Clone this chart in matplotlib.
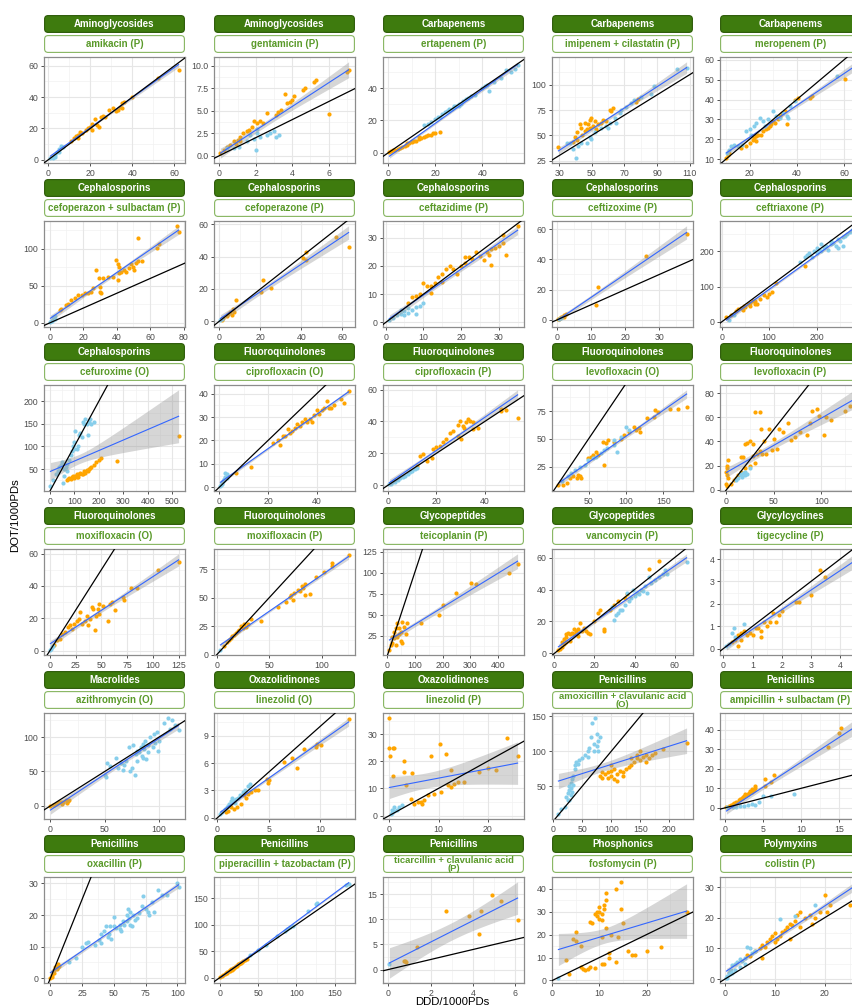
import numpy as np
import matplotlib
matplotlib.use("Agg")
import matplotlib.pyplot as plt
from matplotlib.patches import FancyBboxPatch

plt.rcParams['font.family'] = ['Liberation Sans', 'DejaVu Sans']

# ---- facet labels ----
classes = ["Aminoglycosides", "Aminoglycosides", "Carbapenems", "Carbapenems", "Carbapenems",
           "Cephalosporins", "Cephalosporins", "Cephalosporins", "Cephalosporins", "Cephalosporins",
           "Cephalosporins", "Fluoroquinolones", "Fluoroquinolones", "Fluoroquinolones", "Fluoroquinolones",
           "Fluoroquinolones", "Fluoroquinolones", "Glycopeptides", "Glycopeptides", "Glycylcyclines",
           "Macrolides", "Oxazolidinones", "Oxazolidinones", "Penicillins", "Penicillins",
           "Penicillins", "Penicillins", "Penicillins", "Phosphonics", "Polymyxins"]

drugs = ["amikacin (P)", "gentamicin (P)", "ertapenem (P)", "imipenem + cilastatin (P)", "meropenem (P)",
         "cefoperazon + sulbactam (P)", "cefoperazone (P)", "ceftazidime (P)", "ceftizoxime (P)", "ceftriaxone (P)",
         "cefuroxime (O)", "ciprofloxacin (O)", "ciprofloxacin (P)", "levofloxacin (O)", "levofloxacin (P)",
         "moxifloxacin (O)", "moxifloxacin (P)", "teicoplanin (P)", "vancomycin (P)", "tigecycline (P)",
         "azithromycin (O)", "linezolid (O)", "linezolid (P)", "amoxicillin + clavulanic acid\n(O)",
         "ampicillin + sulbactam (P)",
         "oxacillin (P)", "piperacillin + tazobactam (P)", "ticarcillin + clavulanic acid\n(P)",
         "fosfomycin (P)", "colistin (P)"]

x_ticks = [[0, 20, 40, 60], [0, 2, 4, 6], [0, 20, 40], [30, 50, 70, 90, 110], [20, 40, 60],
           [0, 20, 40, 60, 80], [0, 20, 40, 60], [0, 10, 20, 30], [0, 10, 20, 30], [0, 100, 200],
           [0, 100, 200, 300, 400, 500], [0, 20, 40], [0, 20, 40], [50, 100, 150], [0, 50, 100],
           [0, 25, 50, 75, 100, 125], [0, 50, 100], [0, 100, 200, 300, 400, 500], [0, 20, 40, 60], [0, 1, 2, 3, 4],
           [0, 50, 100], [0, 5, 10], [0, 10, 20], [0, 50, 100, 150, 200], [0, 5, 10, 15],
           [0, 25, 50, 75, 100], [0, 50, 100, 150], [0, 2, 4, 6], [0, 10, 20, 30], [0, 10, 20]]

y_ticks = [[0, 20, 40, 60], [0, 2.5, 5, 7.5, 10], [0, 20, 40], [25, 50, 75, 100], [10, 20, 30, 40, 50, 60],
           [0, 50, 100], [0, 20, 40, 60], [0, 10, 20, 30], [0, 20, 40, 60], [0, 100, 200],
           [0, 50, 100, 150, 200], [0, 10, 20, 30, 40], [0, 20, 40, 60], [25, 50, 75], [0, 20, 40, 60, 80],
           [0, 20, 40, 60], [0, 25, 50, 75], [0, 25, 50, 75, 100, 125], [0, 20, 40, 60], [0, 1, 2, 3, 4],
           [0, 50, 100, 150], [0, 3, 6, 9], [0, 10, 20, 30], [0, 50, 100, 150], [0, 10, 20, 30, 40],
           [0, 10, 20, 30], [0, 50, 100, 150], [0, 5, 10, 15], [0, 10, 20, 30, 40], [0, 10, 20, 30]]

# ---- points (DDD, DOT) per drug; orange / blue groups ----
amikacin_o = [(11, 12), (12, 14), (13, 15), (14, 16), (14, 14), (15, 18), (16, 17), (18, 19), (19, 20), (20, 21),
              (21, 23), (21, 19), (22, 26), (23, 22), (24, 21), (25, 27), (26, 28), (27, 27), (29, 32), (31, 33),
              (32, 31), (33, 32), (34, 34), (35, 36), (35, 33), (36, 37), (40, 40), (52, 52), (62, 57)]
amikacin_b = [(1, 1), (2, 2), (2, 1), (3, 3), (3, 2), (4, 5), (5, 7), (5, 5), (6, 9), (7, 8)]

gentamicin_o = [(7.1, 9.5), (7.0, 9.3), (6.0, 4.6), (5.3, 8.4), (5.2, 8.2), (4.7, 7.5), (4.6, 7.3), (4.1, 6.6),
                (4.0, 6.2), (3.9, 6.0), (3.6, 6.8), (3.7, 5.8), (3.4, 5.1), (3.2, 4.9), (3.1, 4.5), (2.6, 4.7),
                (2.4, 3.6), (2.2, 3.8), (2.05, 3.6), (1.9, 3.8), (1.8, 3.2), (1.6, 2.9), (1.5, 2.7), (1.3, 2.5),
                (1.15, 2.1), (1.0, 1.75), (0.8, 1.6), (0.6, 1.2), (0.4, 1.0), (0.25, 0.6), (0.05, 0.3),
                (1.15, 1.6), (0.9, 1.3)]
gentamicin_b = [(0.4, 0.8), (0.8, 0.8), (1.05, 1.0), (1.5, 1.6), (1.9, 1.9), (2.0, 0.6), (2.05, 2.5), (2.2, 2.1),
                (2.6, 2.3), (2.8, 2.5), (3.0, 2.7), (3.1, 2.1), (3.3, 2.3), (2.05, 3.0), (1.7, 2.3)]

ertapenem_o = [(0.5, 0.3), (1, 1), (2, 1.5), (3, 2), (4, 2.5), (5, 3), (6, 3.5), (7, 4.5), (8, 5), (8, 6), (9, 6),
               (10, 6.5), (10, 7.5), (11, 7), (12, 7.5), (13, 8.5), (13, 10), (14, 9), (15, 10), (16, 10.5),
               (17, 11), (18, 11), (19, 12), (20, 12), (22, 13)]
ertapenem_b = [(15, 17), (17, 18), (18, 19), (20, 21), (21, 22), (22, 22), (23, 24), (24, 25), (25, 26), (26, 26),
               (26, 27), (27, 27), (28, 28), (28, 29), (29, 29), (30, 30), (30, 29), (31, 30), (32, 32), (33, 33),
               (34, 34), (35, 35), (37, 36), (40, 40), (41, 41), (42, 42), (43, 38), (45, 44), (48, 46), (50, 51),
               (52, 50), (54, 52), (55, 54)]

imipenem_o = [(29.6, 38.7), (38.7, 43.4), (39.7, 48), (40.7, 53), (42.7, 61), (43.7, 57.7), (45.8, 62.5),
              (46.8, 56), (47.8, 61), (48.8, 65.6), (49.8, 67), (50.8, 59), (51.8, 64), (52.8, 56), (53.8, 61),
              (55.9, 62.5), (56.9, 65.6), (58.9, 64), (60.9, 75), (63, 76.7), (62, 73.6), (77, 83), (78, 86),
              (41, 45), (44, 50), (46, 54), (49, 57)]
imipenem_b = [(40.3, 27.5), (36.7, 42), (41.7, 40), (46.8, 42), (48.8, 48), (51.8, 53), (55.9, 57.7), (58.9, 59),
              (60.9, 62.5), (64, 67), (67, 72), (68, 75), (71, 78), (74, 81.5), (76, 84.7), (80, 88), (86, 91),
              (88, 99), (102, 115), (108, 116), (34.6, 42), (38.7, 37), (43.7, 42), (49.8, 46.6), (59.9, 57.7),
              (65, 62.5)]

meropenem_o = [(10.2, 10.5), (10.8, 12), (11.5, 13), (16.4, 15.6), (18.6, 16.4), (20, 18), (21.4, 19.8), (22, 20.7),
               (22.9, 21.5), (23.6, 22.4), (25, 22), (25.7, 24), (27, 25), (28.6, 26.6), (29.3, 27.5), (30, 29),
               (30.7, 28.3), (32, 30), (32.9, 31.7), (33.6, 33.4), (35, 34), (35.7, 27.5), (39.3, 40), (40.7, 41),
               (45.7, 40.7), (46.4, 42), (60.5, 50.3), (64.5, 55), (22.9, 19), (27.9, 25.8)]
meropenem_b = [(10.5, 13), (11.2, 14.7), (12, 16.4), (13.6, 17.3), (15, 16.4), (17, 17.3), (18.6, 24), (20, 25),
               (22, 26.6), (22.9, 28.3), (24.3, 30.8), (25.7, 29), (26.4, 26.6), (27.9, 30), (30, 34), (31.4, 31.7),
               (32.9, 30.8), (34.3, 33.4), (35.7, 31.7), (37, 36.8), (39.3, 39.3), (57, 52), (36.4, 30.8),
               (20.7, 22.4)]

cefop_sulb_o = [(76, 131), (77, 123), (64, 101), (65, 106), (53, 115), (55, 84), (53, 83), (51.5, 81), (50.5, 72),
                (49.5, 76), (48.5, 79), (47.5, 74), (45.6, 69), (44.6, 72), (42.5, 69), (41.6, 67), (40.7, 58),
                (39.7, 85), (40.7, 80), (41.6, 76), (37.7, 62.5), (34.8, 62.5), (31.8, 60), (29.9, 49), (29.3, 60),
                (27.9, 72), (29.9, 42), (30.8, 40), (25.9, 46.6), (24.9, 42), (23, 40), (21, 40), (19, 37.5),
                (17, 37.5), (15, 33), (13, 30.6), (11, 26), (10, 23.7), (7, 19), (6.3, 17)]
cefop_sulb_b = [(0.4, 1), (1.4, 3), (2.4, 5.5), (3, 10), (2, 7.8), (0.8, 2.3), (3.3, 5.5)]

cefoperazone_o = [(63, 46), (57, 52), (42.3, 43), (40.6, 39), (42.3, 38), (21.3, 25.5), (20.5, 18), (25.3, 20.6),
                  (8, 13), (6.8, 7.5), (5.2, 5.5), (6, 3.8), (3.5, 3.4), (2, 1.8), (1.1, 1), (7.1, 5.9), (4.4, 4.4)]
cefoperazone_b = [(0.5, 0.5), (1.5, 1.2)]

ceftazidime_o = [(35, 34), (31, 31), (30, 27), (29, 26.5), (28, 26), (27.5, 24), (32, 24), (26, 22), (25, 23.5),
                 (24, 25), (23, 22.5), (22, 23), (21, 21), (20, 20), (19, 17), (18, 19), (17, 20), (16, 19),
                 (15, 17), (15, 14.5), (14, 16), (13, 14), (12, 13), (11, 13), (10, 14), (9, 10), (8, 9.5), (7, 9),
                 (6, 7), (27, 25), (28, 20.5), (31, 28), (21, 23), (12, 10.5)]
ceftazidime_b = [(1, 1), (2, 1.5), (3, 2.5), (4, 3), (5, 4), (6, 5), (7, 4.5), (8, 5.5), (9, 6), (10, 7), (6, 3.5),
                 (4, 4.5), (8, 3), (5, 2.5)]

ceftizoxime_o = [(0.3, 0.5), (0.8, 1), (1.5, 2), (2, 3), (2.5, 4), (1, 1.5), (11.5, 10), (12, 22), (26, 42),
                 (38, 57), (0.5, 0.8), (2, 2)]
ceftizoxime_b = [(0.5, 0.5), (1, 1.2)]

ceftriaxone_o = [(10, 15), (20, 20), (30, 30), (40, 40), (45, 35), (50, 42), (55, 50), (60, 55), (65, 60), (70, 50),
                 (75, 52), (70, 58), (90, 75), (95, 72), (100, 80), (105, 85), (115, 110), (175, 158), (60, 45),
                 (35, 38), (80, 65), (48, 45)]
ceftriaxone_b = [(15, 5), (25, 20), (165, 170), (175, 185), (180, 190), (185, 195), (190, 185), (195, 200),
                 (200, 195), (205, 205), (210, 200), (215, 210), (220, 215), (225, 205), (230, 220), (235, 225),
                 (240, 215), (245, 235), (250, 230), (255, 240), (260, 245), (265, 250), (270, 255), (245, 210),
                 (255, 215), (200, 210), (210, 220), (230, 230), (275, 260), (280, 255)]

cefuroxime_o = [(70, 25), (75, 28), (80, 30), (85, 27), (90, 32), (95, 35), (100, 30), (105, 35), (110, 38),
                (115, 33), (120, 40), (125, 42), (130, 38), (140, 45), (145, 42), (150, 48), (155, 45), (160, 50),
                (165, 52), (170, 55), (180, 58), (190, 65), (200, 70), (210, 75), (275, 68), (525, 123), (135, 40),
                (110, 32)]
cefuroxime_b = [(3, 12), (15, 25), (25, 38), (35, 45), (40, 55), (45, 60), (50, 65),
                (55, 20), (60, 35), (65, 55), (70, 62), (80, 70), (85, 80), (90, 90), (95, 100), (100, 110),
                (100, 95), (110, 95), (115, 100), (120, 125), (125, 130), (130, 120), (135, 155), (140, 150),
                (145, 160), (150, 150), (155, 125), (160, 155), (165, 160), (170, 150), (180, 155), (105, 135),
                (60, 50), (70, 45)]

cipro_o_o = [(53, 41), (51, 36), (50, 37.5), (47, 35), (46, 34), (44, 37), (43, 34), (42, 33), (41, 31.5),
             (40, 33), (39, 31), (38, 28), (37, 29), (36, 28), (35, 29), (34, 28), (33, 26), (32, 27), (31, 25.5),
             (30, 24), (29, 23), (28, 25), (27, 22), (26, 22), (25, 18), (24, 20), (22, 19), (13, 8.5), (7, 6),
             (45, 34)]
cipro_o_b = [(0.5, 0.5), (1, 1.5), (1.5, 2.5), (2, 3.5), (2.5, 4.5), (3, 5.5), (1, 2), (2, 3), (0.8, 1), (3, 4),
             (2.5, 6)]

cipro_p_o = [(53.6, 42), (46.8, 48), (46.8, 46.6), (48.6, 47), (35, 39.5), (33.7, 40.5), (32.3, 39.5), (31, 37.3),
             (29.6, 40.5), (29, 38), (26.9, 34), (25.4, 33), (24, 29), (22.7, 26.8), (21.4, 24.7), (20, 23.7),
             (18.7, 22.6), (14.5, 19.4), (13, 18.4), (37, 36), (35, 35), (28.8, 31), (30.2, 29), (31.5, 36),
             (32.9, 41.5), (16, 15), (18, 17), (12, 12)]
cipro_p_b = [(0.5, 0.5), (1, 1), (2, 2), (3, 3), (4, 3.5), (5, 4.5), (6, 5), (7, 6), (8, 7), (9, 8), (10, 9),
             (11, 10), (12, 11), (3, 2), (5, 5)]

levo_o_o = [(9.6, 8.5), (16, 8.5), (20.6, 10), (25, 14.5), (29.4, 16), (33.8, 14.5), (38, 16), (40.4, 14.5),
            (36, 17.5), (49, 32.5), (53.5, 34), (55.7, 35.5), (60, 38.5), (62, 35.5), (69, 47.5), (73, 46),
            (75.4, 49), (71, 26.5), (84, 47.5), (93, 50), (97, 53.4), (104, 56.4), (110.5, 61), (112.7, 58),
            (117, 59.4), (119, 56.4), (128, 68.4), (136.8, 70), (139, 76), (143, 74.4), (159, 77.4), (170, 77),
            (181, 79)]
levo_o_b = [(14, 11.5), (22.8, 16), (27, 19), (31.6, 22), (38, 25), (44.7, 26.5), (49, 31), (55.7, 32.5), (60, 34),
            (66.7, 37), (75, 41.5), (84, 44.5), (88.6, 38.5), (93, 52), (99.6, 61), (104, 58), (84, 49), (71, 40)]

levo_p_o = [(2, 25), (1, 20), (1, 18), (0, 15), (0.5, 12), (2, 10), (0, 5), (1, 3), (5, 5), (8, 8), (10, 10),
            (12, 12), (15, 27), (18, 27), (20, 38), (22, 39), (25, 40), (28, 38), (30, 64), (35, 64), (36, 50),
            (40, 40), (42, 30), (45, 50), (48, 33), (50, 42), (53, 34), (55, 50), (60, 48), (65, 55), (68, 41),
            (72, 44), (78, 48), (85, 45), (88, 55), (90, 65), (95, 67), (98, 61), (103, 45), (105, 60), (110, 58),
            (125, 65), (130, 69), (135, 60), (15, 15), (20, 18), (25, 20), (30, 22), (28, 28), (32, 30), (35, 32),
            (38, 30)]
levo_p_b = [(10, 8), (12, 10), (15, 12), (18, 14), (20, 15), (22, 13), (25, 18), (16, 11), (14, 13), (20, 12)]

moxi_o_o = [(125, 55), (105, 50), (85, 39), (79, 39), (72, 31), (71, 33), (63, 25), (60, 30), (58, 29), (56, 18.6),
            (52, 27.7), (48, 28.7), (45, 21.6), (47, 25.7), (42, 25.7), (40.5, 26.7), (43.6, 12.5), (39, 19.6),
            (37, 15.6), (34, 18.6), (31, 16.6), (29, 23.6), (26, 18.6), (23, 16.6), (20, 15.6), (18, 14.5),
            (15, 11.5), (12, 10.5), (10, 7.5), (7, 6.5), (4, 3.4), (48, 22.6), (36, 21.6), (28, 19.6), (21, 13.5)]
moxi_o_b = [(1, 1), (2, 2), (3, 3), (0.5, 0.3)]

moxi_p_o = [(125.6, 87), (110, 78), (110, 80), (102, 72.5), (95, 68), (84, 62), (82, 58.7), (81, 60), (79, 55.7),
            (77.6, 57), (74, 54), (71, 52.6), (73, 48), (69.5, 51), (66, 46.5), (58, 42), (32.7, 31), (29.5, 27),
            (26, 26.6), (24.7, 23.5), (21.5, 22), (20, 20.5), (16.7, 17.4), (15, 16), (13.5, 14.4), (12, 12.8),
            (10, 11.3), (23, 25), (28, 24), (18, 19), (88.8, 53.5), (84, 52.6), (42, 30), (7, 8)]
moxi_p_b = [(3.5, 4)]

teico_o = [(9, 8), (14, 14), (20, 24), (26, 30), (32, 34), (38, 40), (44, 34), (50, 30), (56, 42), (62, 36),
           (74, 40), (68, 27), (32, 14), (38, 24), (20, 17), (50, 19), (26, 22), (44, 27), (32, 25), (56, 17),
           (122, 40.5), (188, 50), (200, 62), (248, 76), (302, 88), (320, 86), (440, 100), (470, 110)]
teico_b = []

vanco_o = [(2, 2), (3, 3), (4, 4), (5, 6), (5, 9), (6, 12), (6, 7), (7, 13), (8, 12), (9, 13), (10, 12), (11, 14),
           (12, 15), (13, 19), (14, 14), (15, 16), (16, 14), (17, 13), (18, 12), (20, 20), (22, 25), (23, 27),
           (25, 15), (25, 14), (28, 27), (30, 30), (32, 33), (35, 35), (36, 37), (47, 53), (52, 58), (6, 10),
           (8, 8), (12, 11), (4, 7), (10, 15)]
vanco_b = [(30, 21), (32, 25), (33, 27), (35, 30), (36, 38), (37, 33), (38, 35), (40, 36), (41, 38), (42, 37),
           (43, 40), (44, 39), (45, 42), (46, 38), (48, 44), (50, 46), (52, 48), (54, 50), (55, 52), (56, 50),
           (66, 57), (34, 27), (39, 40), (47, 48), (29, 29), (31, 24)]

tige_o = [(0.3, 0.3), (0.4, 0.4), (0.5, 0.1), (0.5, 0.6), (0.6, 0.7), (0.7, 0.8), (0.8, 0.6), (0.9, 0.7),
          (1.0, 0.6), (1.2, 0.9), (1.3, 0.8), (1.3, 0.5), (1.4, 1.2), (1.5, 1.0), (1.6, 1.2), (1.7, 1.6),
          (1.8, 1.2), (1.9, 1.5), (2.0, 1.7), (2.5, 2.1), (2.6, 2.1), (3.0, 2.4), (3.3, 3.5), (3.5, 3.2),
          (4.5, 4.2), (1.1, 0.9), (0.6, 0.4)]
tige_b = [(0.1, 0.1), (0.2, 0.2), (0.3, 0.7), (0.35, 0.9), (0.7, 1.1), (0.4, 0.5)]

azithro_o = [(0, 0), (2, 2), (5, 3), (8, 5), (10, 5), (12, 6), (14, 8), (15, 4), (16, 7), (17, 9), (3, 1), (7, 4),
             (11, 3)]
azithro_b = [(50, 45), (51, 42), (52, 62), (55, 58), (60, 70), (62, 55), (65, 62), (67, 52), (68, 60), (70, 65),
             (72, 85), (73, 50), (75, 55), (76, 88), (78, 45), (79, 75), (80, 80), (82, 78), (83, 85), (84, 72),
             (85, 90), (86, 82), (87, 95), (88, 68), (90, 88), (92, 100), (94, 85), (95, 105), (96, 92), (98, 108),
             (99, 80), (100, 95), (105, 120), (108, 128), (110, 112), (112, 125), (115, 118), (118, 110), (85, 70),
             (80, 65), (90, 78)]

linez_o_o = [(12.8, 10.8), (10.1, 8.0), (9.7, 8.1), (9.6, 7.8), (8.5, 7.6), (7.8, 5.5), (7.3, 6.6), (6.5, 6.1),
             (5.0, 4.2), (4.9, 3.8), (4.8, 4.3), (4.0, 3.0), (3.3, 2.8), (3.0, 2.6), (2.8, 2.2), (2.6, 2.5),
             (2.3, 1.5), (1.9, 1.2), (1.6, 1.0), (1.3, 1.2), (1.0, 0.7), (0.8, 0.6), (3.7, 3.1)]
linez_o_b = [(0.3, 0.4), (0.5, 0.6), (0.7, 1.0), (0.9, 1.2), (1.1, 1.5), (1.3, 1.8), (1.5, 2.0), (1.4, 2.2),
             (1.8, 2.1), (2.0, 2.2), (2.2, 2.5), (2.5, 2.8), (2.7, 3.0), (3.0, 3.5), (3.2, 3.7), (1.0, 1.3),
             (1.7, 1.6)]

linez_p_o = [(0, 36), (0, 25), (0.7, 25), (1, 25), (0.2, 22), (0.7, 14.5), (2.9, 20), (2.9, 16.2), (3.4, 11.2),
             (4.7, 15.5), (4.4, 6.2), (5.1, 4.4), (5.8, 5), (8.5, 21.9), (10.2, 26.5), (11.5, 22.5), (12.5, 16.9),
             (13.2, 11.8), (13.9, 12.5), (15.2, 12.5), (18.3, 16.2), (20, 17.5), (21.7, 16.9), (24, 28.7),
             (26.1, 21.9), (11.9, 11.2), (12.5, 10.6), (10.5, 8.7), (9.1, 8.1), (7.8, 7.5), (7.1, 5.6), (6.4, 5),
             (6.7, 4.4)]
linez_p_b = [(0.3, 0.5), (0.5, 1), (1, 1.5), (1.5, 2), (2, 3), (2.5, 4), (1, 3), (0.5, 2)]

amoxi_o = [(80, 65), (85, 62), (90, 68), (95, 70), (100, 72), (100, 65), (105, 75), (105, 60), (110, 68), (110, 58),
           (115, 72), (120, 70), (125, 74), (130, 78), (135, 80), (140, 85), (145, 90), (145, 95), (150, 88),
           (155, 92), (160, 95), (160, 85), (165, 90), (170, 95), (175, 98), (190, 103), (230, 112), (85, 70),
           (95, 62), (120, 65), (135, 90), (150, 100), (100, 80)]
amoxi_b = [(9, 10), (13, 18), (20, 20), (22, 35), (25, 40), (27, 45), (28, 50), (30, 38), (30, 55), (32, 42),
           (33, 60), (35, 52), (35, 65), (38, 75), (40, 85), (42, 82), (45, 88), (50, 90), (55, 95), (60, 100),
           (62, 105), (65, 120), (67, 140), (70, 110), (72, 148), (75, 125), (75, 108), (78, 115), (78, 100),
           (80, 120), (28, 30), (30, 47), (25, 30), (37, 80), (60, 92), (70, 100)]

ampi_o = [(0.2, 0.3), (0.5, 1), (0.8, 1.5), (1, 2), (1.2, 2.5), (1.5, 3), (1.8, 4), (2, 4.5), (2.2, 5), (2.5, 6),
          (2.8, 6.5), (3, 7), (3.2, 7.5), (3.5, 8), (3.8, 9), (4, 10), (4, 11), (2.4, 5.5), (3.3, 8.5), (1.5, 2.5),
          (5.2, 14.5), (5.3, 11), (6, 13), (6.5, 17), (13.5, 31), (15, 38.5), (15.2, 41), (17, 46), (3.6, 9.5),
          (2.7, 7)]
ampi_b = [(0.3, 0.2), (1, 0.5), (2, 1), (3, 1.5), (4.5, 3), (5, 6), (6, 6), (9, 7), (2.5, 0.8), (1.5, 0.6),
          (4, 1.3), (3.5, 2)]

oxa_o = [(0, 0), (1, 1), (2, 2), (3, 2.5), (4, 3.5), (5, 4), (6, 4.5), (7, 4), (5, 3), (3, 1.5), (6, 3.5), (1, 0.5)]
oxa_b = [(15, 5), (20, 6.5), (25, 10), (28, 11), (30, 11.5), (35, 10.5), (40, 11), (40, 14), (42, 15), (44, 16.5),
         (45, 13), (46, 14), (47, 16.5), (48, 12.5), (50, 19.5), (50, 16.5), (52, 16), (55, 15.5), (56, 15),
         (57, 18), (58, 17), (60, 20), (60, 18), (61, 22), (62, 19), (63, 21), (63, 17), (64, 16.5), (65, 20),
         (67, 18.5), (68, 19), (70, 20.5), (72, 23), (73, 26), (75, 22), (77, 21), (78, 20), (80, 24), (82, 21),
         (85, 28), (88, 26.5), (92, 26.5), (100, 30), (101, 29), (55, 17), (38, 12)]

pip_o = [(1, 1), (3, 3), (5, 5), (7, 7), (9, 9), (10, 11), (12, 12), (14, 14), (15, 16), (17, 17), (18, 19),
         (20, 20), (21, 22), (23, 23), (25, 25), (27, 28), (29, 29), (31, 32), (33, 34), (35, 35), (8, 9),
         (13, 13), (19, 18), (24, 26), (28, 27), (16, 15)]
pip_b = [(75, 78), (85, 88), (88, 92), (92, 95), (115, 125), (125, 138), (127, 140), (165, 175), (168, 176),
         (50, 52), (40, 42), (60, 62), (95, 98)]

ticar_o = [(2.7, 11.7), (3.8, 10.7), (4.35, 11.7), (4.27, 7), (4.9, 14.8), (5.3, 13.6), (6.1, 9.8), (1.37, 4.5),
           (0.8, 1.7), (0.85, 1.5), (0.75, 1.6)]
ticar_b = [(0.05, 1.2)]

fosfo_o = [(3, 9), (3.5, 3), (4.5, 18), (5, 21), (5, 17), (6, 15), (6, 6), (6.5, 5), (7, 4.5), (7.5, 5), (8, 6),
           (8, 25.5), (8.5, 25), (9, 29), (9.5, 28), (9.5, 30), (10, 27), (10, 32), (10, 30), (10.5, 26.5),
           (10.5, 29), (11, 31), (11, 33), (11.5, 38), (11.5, 35), (11.5, 23), (12, 12), (12, 10), (10.5, 19),
           (10.5, 7), (11, 7), (13.5, 40), (13.5, 8), (14, 19), (14.5, 43), (14.5, 31), (15, 25), (16, 13),
           (17, 11), (17.5, 11), (20, 13), (23, 14.5), (28.5, 30), (9, 5.5), (12.5, 20)]
fosfo_b = [(1.3, 1)]

colistin_o = [(4.5, 8), (5, 7.5), (6, 9), (7, 10), (7.5, 11), (8, 10.5), (8.5, 12), (9, 13), (9.5, 14), (10, 15),
              (10.5, 13), (11, 14), (11.5, 15.5), (12, 16), (12.5, 17), (13, 18), (13.5, 17.5), (14, 19),
              (14.5, 21), (15, 22), (16, 20), (17, 21), (17.5, 18), (18, 20), (19, 22), (20, 27.5), (20.5, 22),
              (21, 24), (25, 24), (26, 27), (7.5, 7), (10, 12), (13, 13), (15, 17)]
colistin_b = [(0.3, 0.5), (0.5, 1), (0.8, 2), (1, 2.5), (1.2, 3), (1.5, 4.5), (2, 5), (2.5, 5.5), (3, 6.5),
              (3.5, 6), (4, 7), (4.5, 10.5), (5, 10), (5.5, 8.5), (6, 9), (11, 19.5), (14, 20.5), (18, 24),
              (1, 1.5), (2, 3), (3, 4), (4, 5), (0.5, 0.3), (1.5, 2)]

orange_points = [amikacin_o, gentamicin_o, ertapenem_o, imipenem_o, meropenem_o,
                 cefop_sulb_o, cefoperazone_o, ceftazidime_o, ceftizoxime_o, ceftriaxone_o,
                 cefuroxime_o, cipro_o_o, cipro_p_o, levo_o_o, levo_p_o,
                 moxi_o_o, moxi_p_o, teico_o, vanco_o, tige_o,
                 azithro_o, linez_o_o, linez_p_o, amoxi_o, ampi_o,
                 oxa_o, pip_o, ticar_o, fosfo_o, colistin_o]
blue_points = [amikacin_b, gentamicin_b, ertapenem_b, imipenem_b, meropenem_b,
               cefop_sulb_b, cefoperazone_b, ceftazidime_b, ceftizoxime_b, ceftriaxone_b,
               cefuroxime_b, cipro_o_b, cipro_p_b, levo_o_b, levo_p_b,
               moxi_o_b, moxi_p_b, teico_b, vanco_b, tige_b,
               azithro_b, linez_o_b, linez_p_b, amoxi_b, ampi_b,
               oxa_b, pip_b, ticar_b, fosfo_b, colistin_b]

ORANGE = "#FFA500"
BLUE = "#87CEEB"
GREEN_DARK = "#3E7B0E"
GREEN_TEXT = "#5A9A2A"


def t975(df):
    # Cornish-Fisher approximation of the 97.5% Student t quantile
    z = 1.959964
    return (z + (z**3 + z) / (4 * df) + (5 * z**5 + 16 * z**3 + 3 * z) / (96 * df**2)
            + (3 * z**7 + 19 * z**5 + 17 * z**3 - 15 * z) / (384 * df**3))


def lm_smooth(x, y, n=80):
    b, a = np.polyfit(x, y, 1)
    xs = np.linspace(x.min(), x.max(), n)
    fit = a + b * xs
    df = len(x) - 2
    s = np.sqrt(np.sum((y - (a + b * x))**2) / df)
    se = s * np.sqrt(1 / len(x) + (xs - x.mean())**2 / np.sum((x - x.mean())**2))
    t = t975(df)
    return xs, fit, fit - t * se, fit + t * se


def tick_text(ticks):
    if all(float(v).is_integer() for v in ticks):
        return [str(int(v)) for v in ticks]
    return [f"{v:.1f}" for v in ticks]


def minor_breaks(ticks):
    step = ticks[1] - ticks[0]
    return [ticks[0] - step / 2] + [v + step / 2 for v in ticks]


def strip(fig, left, top, w, h, W, H, label, fc, ec, tc, lw):
    sa = fig.add_axes([left / W, 1 - (top + h) / H, w / W, h / H])
    sa.set_xlim(0, w)
    sa.set_ylim(0, h)
    sa.axis("off")
    sa.add_patch(FancyBboxPatch((0.6, 0.6), w - 1.2, h - 1.2,
                                boxstyle="round,pad=0,rounding_size=3.5",
                                fc=fc, ec=ec, lw=lw))
    if "\n" in label:
        first, second = label.split("\n")
        sa.text(w / 2, h * 0.70, first, ha="center", va="center",
                color=tc, fontsize=6.8, fontweight="bold")
        sa.text(w / 2, h * 0.26, second, ha="center", va="center",
                color=tc, fontsize=6.8, fontweight="bold")
    else:
        sa.text(w / 2, h / 2, label, ha="center", va="center",
                color=tc, fontsize=7, fontweight="bold")


W, H = 853, 1007
fig = plt.figure(figsize=(W / 100, H / 100), dpi=100)
fig.patch.set_facecolor("white")

lefts = [44, 214, 383, 552, 720]
tops = [57, 221, 385, 549, 713, 877]
pw, ph = 141, 106

for i in range(30):
    r, c = divmod(i, 5)
    left, top = lefts[c], tops[r]
    ax = fig.add_axes([left / W, 1 - (top + ph) / H, pw / W, ph / H])

    o = np.array(orange_points[i], dtype=float).reshape(-1, 2)
    b = np.array(blue_points[i], dtype=float).reshape(-1, 2)
    allp = np.vstack([o, b])
    x, y = allp[:, 0], allp[:, 1]
    xs, fit, lo, hi = lm_smooth(x, y)

    x0, x1 = x.min(), x.max()
    y0, y1 = min(y.min(), lo.min()), max(y.max(), hi.max())
    dx, dy = (x1 - x0) * 0.05, (y1 - y0) * 0.05

    for v in minor_breaks(x_ticks[i]):
        ax.axvline(v, color="#F2F2F2", lw=0.5, zorder=0)
    for v in minor_breaks(y_ticks[i]):
        ax.axhline(v, color="#F2F2F2", lw=0.5, zorder=0)
    for v in x_ticks[i]:
        ax.axvline(v, color="#E6E6E6", lw=0.8, zorder=0)
    for v in y_ticks[i]:
        ax.axhline(v, color="#E6E6E6", lw=0.8, zorder=0)

    if len(o):
        ax.scatter(o[:, 0], o[:, 1], s=9, color=ORANGE, linewidths=0, zorder=2)
    if len(b):
        ax.scatter(b[:, 0], b[:, 1], s=9, color=BLUE, linewidths=0, zorder=2)
    ax.fill_between(xs, lo, hi, color="#999999", alpha=0.4, lw=0, zorder=3)
    ax.plot(xs, fit, color="#3366FF", lw=0.8, zorder=4)
    ax.axline((0, 0), slope=1, color="black", lw=0.9, zorder=5)

    ax.set_xticks(x_ticks[i])
    ax.set_xticklabels(tick_text(x_ticks[i]))
    ax.set_yticks(y_ticks[i])
    ax.set_yticklabels(tick_text(y_ticks[i]))
    ax.set_xlim(x0 - dx, x1 + dx)
    ax.set_ylim(y0 - dy, y1 + dy)
    ax.tick_params(length=2.5, width=0.6, color="#333333", labelsize=6.3,
                   labelcolor="#4D4D4D", pad=1.5)
    for sp in ax.spines.values():
        sp.set_color("#8C8C8C")
        sp.set_linewidth(0.9)

    strip(fig, left, top - 42, pw, 18, W, H, classes[i], GREEN_DARK, "#2C5A08", "white", 0.8)
    strip(fig, left, top - 22, pw, 18, W, H, drugs[i], "white", "#86B560", GREEN_TEXT, 0.8)

fig.text(15 / W, 1 - 515 / H, "DOT/1000PDs", rotation=90, ha="center", va="center",
         fontsize=8.2, color="black")
fig.text(452 / W, 1 - 1002 / H, "DDD/1000PDs", ha="center", va="center",
         fontsize=8.2, color="black")

fig.savefig("out.png", dpi=100)
